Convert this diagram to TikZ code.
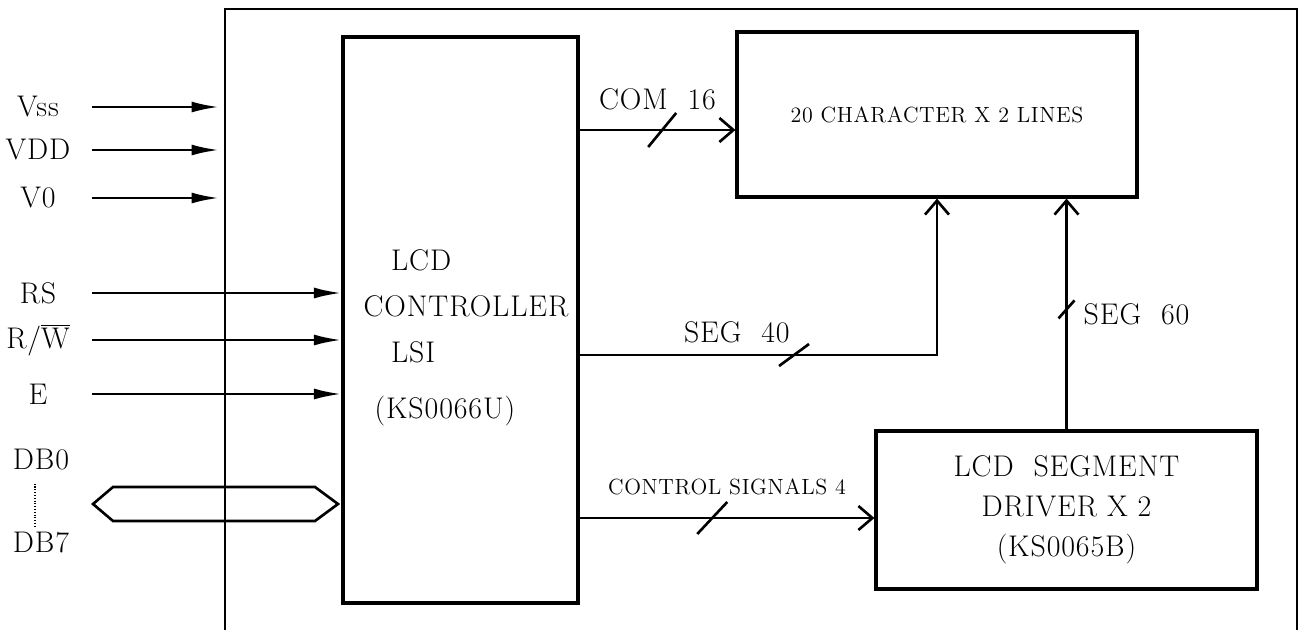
\documentclass[tikz,border=0pt]{standalone}
\usepackage{fontspec}
\setmainfont{Latin Modern Roman}[LetterSpace=3]
\usetikzlibrary{arrows.meta}
\newcommand{\busmark}[3]{\draw[line width=1.5pt] (#1) ++(-#2,#3) -- ++(2*#2,-2*#3);}

\begin{document}
\begin{tikzpicture}[x=.2mm,y=-.2mm,font=\fontsize{17}{26}\selectfont,
  block/.style={draw,line width=1.8pt,inner sep=0pt},
  wire/.style={line width=1.5pt},
  pwr/.style={wire,-{Latex[length=5.5mm,width=2.2mm]}},
  bus/.style={wire,-{Straight Barb[length=2.8mm,width=4.8mm]}}]
\useasboundingbox (0,0) rectangle (1303,630);
\draw[line width=.8pt] (225,630) -- (225,9) coordinate (frame) -- (1297,9) -- (1297,630);
% blocks
\node[block,minimum width=47mm,minimum height=113.2mm] (ctrl) at (460.5,320) {};
\node[align=left] (ctrltxt) at (466,338) {\hspace*{5.5mm}LCD\\CONTROLLER\\\hspace*{5.5mm}LSI\\[2.2mm]\hspace*{2.2mm}(KS0066U)};
\node[block,minimum width=80mm,minimum height=33mm,font=\fontsize{12.5}{14}\selectfont] (disp) at (937,114.5) {20 CHARACTER X 2 LINES};
\node[block,minimum width=76.2mm,minimum height=31.6mm,align=center,font=\fontsize{17}{22.8}\selectfont] (drv) at (1066.5,510) {LCD\ \ SEGMENT\\DRIVER X 2\\(KS0065B)};
% inputs
\foreach \nm/\txt/\y in {vss/Vss/107,vdd/VDD/150,vo/V0/198}{\node (\nm) at (38,\y) {\txt};\coordinate (in\nm) at (92,\y);\draw[pwr,shorten >=1.2mm] (in\nm) -- (in\nm -| frame);}
\foreach \nm/\txt/\y in {rs/RS/293,rw/{R/$\overline{\hbox{W}}$}/340,e/E/394}{\node (\nm) at (38,\y) {\txt};\coordinate (in\nm) at (92,\y);\draw[pwr] (in\nm) -- (in\nm -| ctrl.west);}
\node (db0) at (41,460) {DB0};\node (db7) at (41,543) {DB7};
\draw[densely dotted,line width=.6pt,shorten <=1.4mm] ([xshift=-1.2mm]db0.south) -- ([xshift=-1.2mm]db7.north);
\draw[line width=1.5pt] (93,504) -- (113,487) -- (315,487) -- (338,504) -- (315,521) -- (113,521) -- cycle;
% outputs
\draw[bus] (ctrl.east |- 0,130) -- coordinate[pos=.53] (com) node[midway,above=2.6mm] {COM\ \ 16} (disp.west |- 0,130);
\draw[bus] (ctrl.east |- 0,355) -| coordinate[pos=.3] (s40) node[pos=.22,above=1mm] {SEG\ \ 40} (disp.south);
\draw[bus] (ctrl.east |- 0,518) -- coordinate[pos=.45] (cs) node[midway,above=3.2mm,font=\fontsize{12.5}{14}\selectfont] {CONTROL SIGNALS 4} (drv.west |- 0,518);
\draw[bus] (drv.north) -- coordinate[pos=.52] (s60) node[midway,right=2mm] {SEG\ \ 60} (drv.north |- disp.south);
\busmark{com}{14}{17}\busmark{s40}{15}{11}\busmark{cs}{15}{16}\busmark{s60}{8}{9}
\end{tikzpicture}
\end{document}
